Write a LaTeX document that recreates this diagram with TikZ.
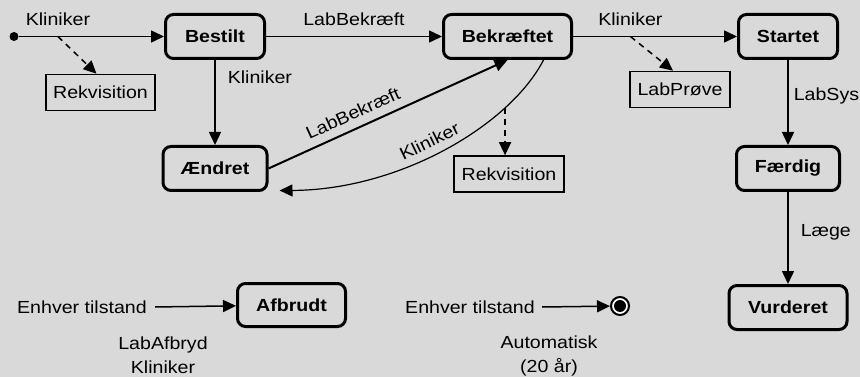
\documentclass[tikz,border=0pt]{standalone}
\usepackage{fontspec}
\setmainfont{Liberation Sans}[FakeStretch=1.12]
\usetikzlibrary{arrows.meta}
\definecolor{bg}{HTML}{D9D9D9}
\begin{document}
\begin{tikzpicture}[x=1pt,y=-1pt,
  font=\fontsize{17.5}{24}\selectfont,
  state/.style={draw, line width=3pt, rounded corners=8pt, minimum height=44pt,
    font=\fontsize{17.5}{24}\selectfont\bfseries, inner sep=0pt},
  doc/.style={draw, line width=1.5pt, minimum height=36pt, inner sep=0pt},
  lbl/.style={inner sep=0pt},
  arr/.style={line width=1.5pt, -{Triangle[length=13pt,width=12pt]}},
  darr/.style={arr, dash pattern=on 6pt off 5pt},
]
\fill[bg] (0,0) rectangle (860,377);
\useasboundingbox (0,0) rectangle (860,377);

% states
\node[state, minimum width=99pt]  (bs) at (215,36.5)   {Bestilt};
\node[state, minimum width=128pt] (bk) at (507.5,36.5) {Bekræftet};
\node[state, minimum width=99pt]  (st) at (788,36.5)   {Startet};
\node[state, minimum width=104pt] (ae) at (215,168.5)  {Ændret};
\node[state, minimum width=103pt] (fd) at (788,168.5)  {Færdig};
\node[state, minimum width=118pt] (vu) at (788,307.5)  {Vurderet};
\node[state, minimum width=108pt, minimum height=43pt] (af) at (291.5,305) {Afbrudt};

% documents
\node[doc, minimum width=109pt] (r1) at (100.5,92.5) {Rekvisition};
\node[doc, minimum width=110pt] (r2) at (509,174)    {Rekvisition};
\node[doc, minimum width=100pt] (lp) at (680,89.5)   {LabPrøve};

% pseudo states
\node[fill, circle, inner sep=0pt, minimum size=9pt] (init) at (14,36.5) {};
\node[circle, draw, line width=2pt, fill=white, inner sep=0pt, minimum size=18pt] (fin) at (620,306) {};
\fill (fin.center) circle (6pt);

% free texts
\node[lbl] (e1) at (82,307)  {Enhver tilstand};
\node[lbl] (e2) at (470,307) {Enhver tilstand};
\node[lbl, align=center] (c1) at (163,355) {LabAfbryd\\Kliniker};
\node[lbl, align=center] (c2) at (549,356) {Automatisk\\(20 år)};

% transitions
\draw[arr] (init) -- node[lbl, pos=0.27, above=10pt] {Kliniker} coordinate[pos=0.27] (k1) (bs);
\draw[darr] (k1) -- ([xshift=-4pt]r1.north);

\draw[arr] (bs) -- node[lbl, above=10pt] {LabBekræft} (bk);

\draw[arr] (bk) -- node[lbl, pos=0.35, above=10pt] {Kliniker} coordinate[pos=0.35] (k2) (st);
\draw[darr] (k2) -- ([xshift=-7pt]lp.north);

\draw[arr] (bs) -- node[lbl, pos=0.2, right=12pt] {Kliniker} (ae);
\draw[arr] (st) -- node[lbl, pos=0.42, right=5pt] {LabSys} (fd);
\draw[arr] (fd) -- node[lbl, pos=0.44, right=12pt] {Læge} (vu);

\draw[arr, line width=2pt] (ae.east) -- node[lbl, pos=0.38, sloped, above=8pt] {LabBekræft} (bk.south);

\draw[arr, line width=1.2pt] ([xshift=36pt]bk.south) .. controls (510,125) and (400,190) ..
  node[lbl, pos=0.53, sloped, above=7pt] {Kliniker} coordinate[pos=0.25] (k3)
  ([xshift=11pt, yshift=1.5pt]ae.south east);
\draw[darr] (k3) -- (k3 |- r2.north);

\draw[arr] ([xshift=8pt]e1.east) -- (af);
\draw[arr] ([xshift=7pt]e2.east) -- (fin);
\end{tikzpicture}
\end{document}
